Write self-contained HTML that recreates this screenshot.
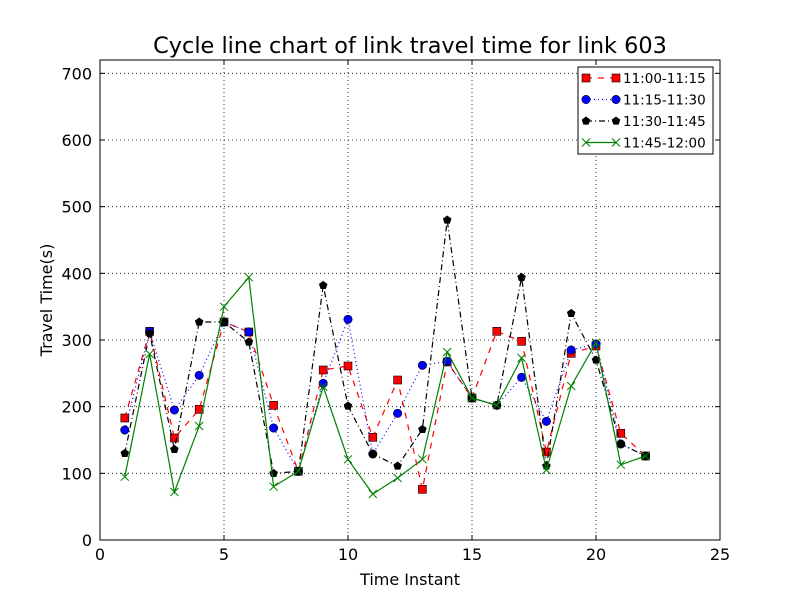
<!DOCTYPE html>
<html><head><meta charset="utf-8"><style>
body{margin:0;background:#fff;}
svg text{font-family:"DejaVu Sans","Liberation Sans",sans-serif;}
</style></head><body>
<svg id="chart" width="800" height="600" xmlns="http://www.w3.org/2000/svg"></svg>
<script>
const xTicks=[0,5,10,15,20,25];
const yTicks=[0,100,200,300,400,500,600,700];
const instants=[1,2,3,4,5,6,7,8,9,10,11,12,13,14,15,16,17,18,19,20,21,22];
const s1=[183,313,153,196,327,312,202,103,255,261,154,240,76,267,213,313,298,132,280,291,160,126];
const s2=[165,313,195,247,327,312,168,103,235,331,129,190,262,268,213,202,244,178,285,294,144,126];
const s3=[130,310,136,327,327,297,100,103,382,201,129,111,166,480,213,202,394,111,340,270,144,126];
const s4=[95,279,72,171,350,394,80,103,230,121,69,93,121,282,213,202,273,105,231,296,113,126];
const names=["11:00-11:15","11:15-11:30","11:30-11:45","11:45-12:00"];
const L=100,R=720,T=60,B=540;
const X=v=>L+(v-0)/(25-0)*(R-L);
const Y=v=>B-(v-0)/(720-0)*(B-T);
const svg=document.getElementById('chart');
const NS="http://www.w3.org/2000/svg";
function mk(t,a,txt){const e=document.createElementNS(NS,t);for(const k in a)e.setAttribute(k,a[k]);if(txt!==undefined)e.textContent=txt;svg.appendChild(e);return e;}
xTicks.forEach(v=>{if(v>0&&v<25){const g=mk('line',{x1:X(v),x2:X(v),y1:T,y2:B,stroke:'#000','stroke-dasharray':'1,3','stroke-width':0.8});

}
const t=mk('text',{x:X(v),y:B+20,'font-size':16,'text-anchor':'middle'},v);


mk('line',{x1:X(v),x2:X(v),y1:B,y2:B-5,stroke:'#000'});mk('line',{x1:X(v),x2:X(v),y1:T,y2:T+5,stroke:'#000'});});
yTicks.forEach(v=>{if(v>0){const g=mk('line',{x1:L,x2:R,y1:Y(v),y2:Y(v),stroke:'#000','stroke-dasharray':'1,3','stroke-width':0.8});

}
const t=mk('text',{x:L-8,y:Y(v)+6,'font-size':16,'text-anchor':'end'},v);


mk('line',{x1:L,x2:L+5,y1:Y(v),y2:Y(v),stroke:'#000'});mk('line',{x1:R,x2:R-5,y1:Y(v),y2:Y(v),stroke:'#000'});});
function marker(type,x,y,color){
 let e;
 if(type==='s')e=mk('rect',{x:x-4,y:y-4,width:8,height:8,fill:color,stroke:'#000','stroke-width':0.6});
 else if(type==='o')e=mk('circle',{cx:x,cy:y,r:4.2,fill:color,stroke:'#000','stroke-width':0.6});
 else if(type==='p'){let p=[];for(let i=0;i<5;i++){const a=-Math.PI/2+i*2*Math.PI/5;p.push((x+4.5*Math.cos(a))+','+(y+4.5*Math.sin(a)));}e=mk('polygon',{points:p.join(' '),fill:color});}
 else {e=mk('path',{d:`M${x-4},${y-4}L${x+4},${y+4}M${x-4},${y+4}L${x+4},${y-4}`,stroke:color,'stroke-width':1});}
 return e;
}
const series=[[s1,'red','6,6','s'],[s2,'blue','1,3','o'],[s3,'black','6,3,1,3','p'],[s4,'green','','x']];
series.forEach(([d,c,dash,m],si)=>{
 const pts=d.map((v,i)=>X(instants[i])+','+Y(v)).join(' ');
 const pl=mk('polyline',{points:pts,fill:'none',stroke:c,'stroke-width':1.2,'stroke-dasharray':dash});
 
 
 d.forEach((v,i)=>{const mm=marker(m,X(instants[i]),Y(v),c);
 
 });
});
const frame=mk('rect',{x:L,y:T,width:R-L,height:B-T,fill:'none',stroke:'#000','stroke-width':1});


const title=mk('text',{x:410,y:53,'font-size':22.4,'text-anchor':'middle'},'Cycle line chart of link travel time for link 603');


const xt=mk('text',{x:410,y:585,'font-size':16,'text-anchor':'middle'},'Time Instant');


const yt=mk('text',{x:52,y:300,'font-size':16,'text-anchor':'middle',transform:'rotate(-90 52 300)'},'Travel Time(s)');


const lg=mk('rect',{x:578,y:67,width:135,height:87,fill:'#fff',stroke:'#000','stroke-width':1});


series.forEach(([d,c,dash,m],i)=>{
 const y=78+i*21.5;
 mk('line',{x1:586,x2:616,y1:y,y2:y,stroke:c,'stroke-width':1.2,'stroke-dasharray':dash});
 marker(m,586,y,c);marker(m,616,y,c);
 const t=mk('text',{x:623,y:y+5,'font-size':13.5},names[i]);
 
 
});
</script>
</body></html>
